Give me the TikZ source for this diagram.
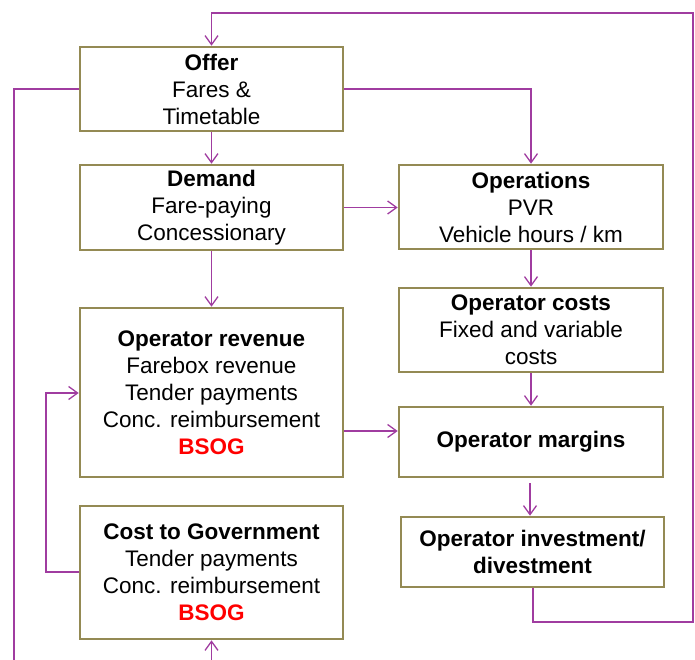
\documentclass[tikz,border=0pt]{standalone}
\usepackage{fontspec}
\setmainfont{Liberation Sans}
\usetikzlibrary{arrows.meta}
\definecolor{boxline}{RGB}{148,138,84}
\definecolor{flow}{RGB}{160,60,160}
\definecolor{bsog}{RGB}{255,0,0}
\tikzset{
  x=1pt, y=-1pt,
  stage/.style={draw=boxline, line width=2.6pt, fill=white, align=center, inner sep=0pt,
    font=\fontsize{22.5}{27}\selectfont},
  flowline/.style={draw=flow, line width=1.3pt},
  flowarrow/.style={flowline, -{Straight Barb[length=9pt,width=13pt,line width=1.3pt]}},
}
\newcommand{\bsogtext}{\textcolor{bsog}{\textbf{BSOG}}}
\begin{document}
\begin{tikzpicture}
\useasboundingbox (0,0) rectangle (695,660);
% boxes
\node[stage, minimum width=263pt, minimum height=84pt] (offer) at (211.5,89) {\textbf{Offer}\\Fares \&\\Timetable};
\node[stage, minimum width=263pt, minimum height=85pt] (demand) at (211.5,207.5) {\textbf{Demand}\\Fare-paying\\Concessionary};
\node[stage, minimum width=263pt, minimum height=169pt] (rev) at (211.5,392.5) {\textbf{Operator revenue}\\Farebox revenue\\Tender payments\\Conc. reimbursement\\\bsogtext};
\node[stage, minimum width=263pt, minimum height=133pt] (gov) at (211.5,572.5) {\textbf{Cost to Government}\\Tender payments\\Conc. reimbursement\\\bsogtext};
\node[stage, minimum width=264pt, minimum height=84pt] (ops) at (531,207) {\textbf{Operations}\\PVR\\Vehicle hours / km};
\node[stage, minimum width=264pt, minimum height=84pt] (costs) at (531,330) {\textbf{Operator costs}\\Fixed and variable\\costs};
\node[stage, minimum width=264pt, minimum height=70pt] (margins) at (531,442) {\textbf{Operator margins}};
\node[stage, minimum width=263pt, minimum height=70pt] (invest) at (532.5,552) {\textbf{Operator investment/}\\\textbf{divestment}};
% coordinates
\coordinate (loopA) at (533,622);
\coordinate (loopB) at (693,622);
\coordinate (loopC) at (693,13);
\coordinate (loopD) at (211.5,13);
\coordinate (leftA) at (14,89);
\coordinate (leftB) at (14,660);
\coordinate (govA) at (46,572);
\coordinate (govB) at (46,393);
\coordinate (botA) at (211.5,660);
\coordinate (mstart) at (530,483);
% connectors
\draw[flowarrow] (invest.south -| loopA) -- (loopA) -- (loopB) -- (loopC) -- (loopD) -- (offer.north);
\draw[flowline] (offer.west) -- (leftA) -- (leftB);
\draw[flowarrow] (offer.east) -| (ops.north);
\draw[flowarrow] (offer.south) -- (demand.north);
\draw[flowarrow] (demand.east) -- (demand.east -| ops.west);
\draw[flowarrow] (demand.south) -- (rev.north);
\draw[flowarrow] (ops.south) -- (costs.north);
\draw[flowarrow] (costs.south) -- (margins.north);
\draw[flowarrow] (rev.east |- 0,431) -- (margins.west |- 0,431);
\draw[flowarrow] (mstart) -- (mstart |- invest.north);
\draw[flowarrow] (gov.west |- govA) -- (govA) -- (govB) -- (govB -| rev.west);
\draw[flowarrow] (botA) -- (gov.south);
\end{tikzpicture}
\end{document}
